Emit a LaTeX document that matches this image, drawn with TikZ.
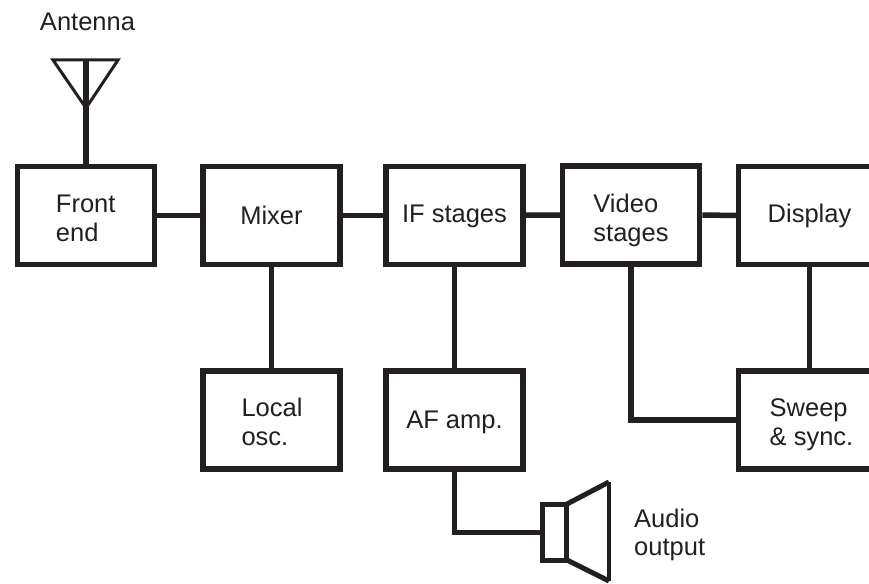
\documentclass[tikz,border=0pt]{standalone}
\usepackage{fontspec}
\setmainfont{Liberation Sans}
\definecolor{ink}{HTML}{231F20}
% zero-width strut on the first line: pushes a centred text down by #1 pt
\newcommand\dn[1]{\rule{0pt}{\dimexpr18pt+#1pt+#1pt\relax}}
\tikzset{
  block/.style={draw=ink,line width=5.5pt,fill=white,minimum width=137pt,minimum height=98pt,inner sep=0pt,align=left,text=ink,font=\fontsize{25.5}{29}\selectfont},
  wire/.style={draw=ink,line width=5.5pt},
  caption/.style={text=ink,inner sep=0pt,align=left,font=\fontsize{25.5}{28.5}\selectfont}
}
\begin{document}
\begin{tikzpicture}[x=1pt,y=-1pt]
\useasboundingbox (0,0) rectangle (869,583);
\clip (0,0) rectangle (869,583);
\node[block] (front) at (85.75,215.25) {\dn{3}Front\\end};
\node[block] (mixer) at (271.5,215.25) {Mixer};
\node[block] (if) at (454.5,215.25) {\dn{1}IF stages};
\node[block] (video) at (631,215) {\dn{5.5}Video\\stages};
\node[block,minimum width=142pt] (display) at (809.5,215.5) {\dn{1}Display};
\node[block] (local) at (271.5,420) {\dn{2}\hspace*{1pt}Local\\\hspace*{1pt}osc.};
\node[block] (af) at (454.5,420) {\dn{2}AF amp.};
\node[block,minimum width=142pt] (sweep) at (809.5,420) {\dn{4.5}\hspace*{4pt}Sweep\\\hspace*{4pt}\& sync.};
\node[draw=ink,line width=5.5pt,minimum width=24pt,minimum height=56pt,inner sep=0pt] (spk) at (554.5,532.5) {};
\node[caption] (antlabel) at (87.5,22) {Antenna};
\node[caption,anchor=west] (audlabel) at (634,535) {Audio\\output};
\coordinate (tipL) at (53,60);
\coordinate (tipR) at (118,60);
\coordinate (apex) at (86,108);
\coordinate (mastTop) at (86,59);
\coordinate (mastMid) at (86,144);
\coordinate (coneA) at (567,504);
\coordinate (coneB) at (609,482);
\coordinate (coneC) at (609,581);
\coordinate (coneD) at (567,560);
\draw[wire] (front) -- (mixer);
\draw[wire] (mixer) -- (if);
\draw[wire] (if) -- (video);
\draw[wire] (video) -- (display);
\draw[wire] (mixer) -- (local);
\draw[wire] (if) -- (af);
\draw[wire] (display) -- (sweep);
\draw[wire] (video.south) |- (sweep.west);
\draw[wire] (af.south) |- (spk.west);
\draw[draw=ink,line width=3pt] (tipL) -- (tipR) -- (apex) -- cycle;
\draw[draw=ink,line width=6.5pt] (mastTop) -- (mastMid);
\draw[wire] (mastMid) -- (front.north -| mastMid);
\draw[draw=ink,line width=4pt] (coneB) -- (coneC);
\draw[draw=ink,line width=5pt] (coneA) -- (coneB);
\draw[draw=ink,line width=5pt] (coneD) -- (coneC);
\end{tikzpicture}
\end{document}
